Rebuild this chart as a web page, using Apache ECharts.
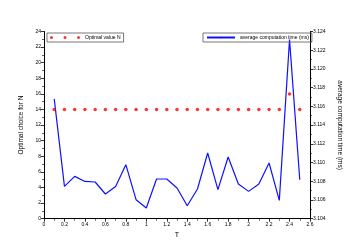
<!DOCTYPE html>
<html><head><meta charset="utf-8">
<script src="https://cdn.jsdelivr.net/npm/echarts@6/dist/echarts.min.js"></script>
<style>html,body{margin:0;padding:0;background:#fff}#c{width:354px;height:250px}</style>
</head><body><div id="c"></div>
<script>
const T = [0.1,0.2,0.3,0.4,0.5,0.6,0.7,0.8,0.9,1.0,1.1,1.2,1.3,1.4,1.5,1.6,1.7,1.8,1.9,2.0,2.1,2.2,2.3,2.4,2.5];
const optimalN = [14,14,14,14,14,14,14,14,14,14,14,14,14,14,14,14,14,14,14,14,14,14,14,16,14];
const avgTime = [3.1168,3.10745,3.10852,3.10798,3.10792,3.10664,3.10745,3.10977,3.10603,3.10514,3.10824,3.10824,3.10728,3.10539,3.10717,3.11102,3.1071,3.11059,3.10771,3.10692,3.10771,3.10995,3.10596,3.12313,3.10817];
const nameN = 'Optimal value N';
const nameT = 'average computation time (ms)';

const chart = echarts.init(document.getElementById('c'), null, {renderer:'canvas'});
const axisCommon = {
  axisLine:{show:true,lineStyle:{color:'#000',width:1}},
  axisTick:{show:true,inside:false,length:3,lineStyle:{color:'#000',width:0.8}},
  minorTick:{show:true,splitNumber:2,length:2,lineStyle:{color:'#000',width:0.6}},
  axisLabel:{color:'#000',fontSize:5,fontFamily:'Liberation Sans',margin:3},
  splitLine:{show:false}
};
chart.setOption({
  animation:false,
  backgroundColor:'#fff',
  grid:{left:44,right:44,top:31.5,bottom:31.3},
  legend:[
    {data:[nameN],left:47,top:33,padding:[2,3],itemGap:0,itemWidth:30,itemHeight:3,
     borderColor:'#555',borderWidth:0.8,borderRadius:0,
     icon:'path://M0,1.5a1.5,1.5 0 1,0 3,0a1.5,1.5 0 1,0 -3,0M13.5,1.5a1.5,1.5 0 1,0 3,0a1.5,1.5 0 1,0 -3,0M27,1.5a1.5,1.5 0 1,0 3,0a1.5,1.5 0 1,0 -3,0',
     textStyle:{fontSize:5,color:'#000',fontFamily:'Liberation Sans',padding:[0,12,0,0]}},
    {data:[nameT],left:203,top:33,padding:[2,3],itemGap:0,itemWidth:28,itemHeight:2,
     borderColor:'#555',borderWidth:0.8,borderRadius:0,
     textStyle:{fontSize:5,color:'#000',fontFamily:'Liberation Sans',padding:[0,8,0,0]}}
  ],
  xAxis:Object.assign({},axisCommon,{type:'value',min:0,max:2.6,interval:0.2,
    name:'T',nameLocation:'middle',nameGap:13,
    nameTextStyle:{fontSize:7,color:'#000',fontFamily:'Liberation Sans'},
    axisLine:{show:true,onZero:false,lineStyle:{color:'#000',width:1}}}),
  yAxis:[
    Object.assign({},axisCommon,{type:'value',min:0,max:24,interval:2,position:'left',
      name:'Optimal choice for N',nameLocation:'middle',nameGap:10,
      nameTextStyle:{fontSize:6.5,color:'#000',fontFamily:'Liberation Sans'}}),
    Object.assign({},axisCommon,{type:'value',min:3.104,max:3.124,interval:0.002,position:'right',
      name:'average computation time (ms)',nameLocation:'middle',nameGap:22,nameRotate:-90,
      nameTextStyle:{fontSize:6.5,color:'#000',fontFamily:'Liberation Sans'},
      axisLabel:{color:'#000',fontSize:5,fontFamily:'Liberation Sans',margin:3,
        formatter:v=>v.toFixed(3)}})
  ],
  series:[
    {name:nameN,type:'scatter',yAxisIndex:0,symbol:'circle',symbolSize:3.5,
     itemStyle:{color:'#ff0000'},data:T.map((t,i)=>[t,optimalN[i]]),z:3},
    {name:nameT,type:'line',yAxisIndex:1,symbol:'none',
     lineStyle:{color:'#1010ff',width:1.2},itemStyle:{color:'#1010ff'},
     data:T.map((t,i)=>[t,avgTime[i]]),z:2}
  ]
});
</script></body></html>
